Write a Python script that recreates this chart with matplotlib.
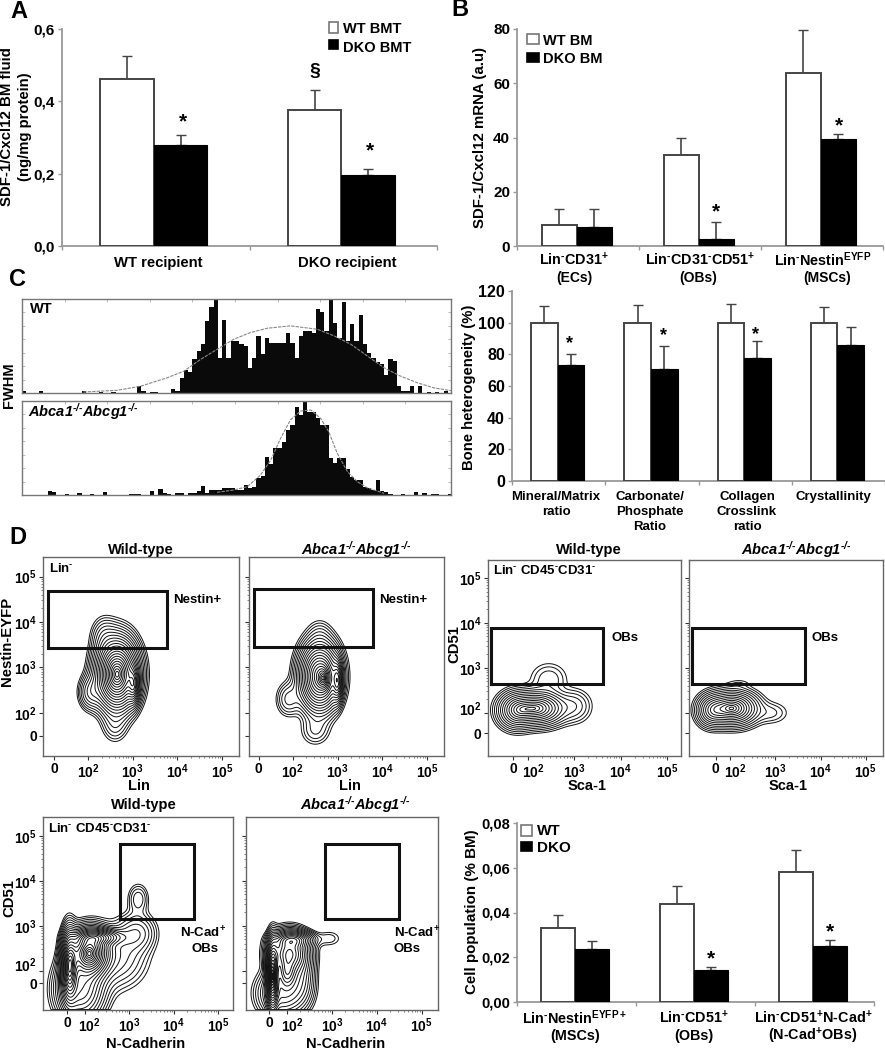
import numpy as np
import matplotlib
matplotlib.use('Agg')
import matplotlib.pyplot as plt
from matplotlib.transforms import ScaledTranslation

plt.rcParams['font.family'] = ['Liberation Sans', 'DejaVu Sans']
plt.rcParams['font.weight'] = 'bold'
plt.rcParams['mathtext.fontset'] = 'custom'
plt.rcParams['mathtext.rm'] = 'Liberation Sans:bold'
plt.rcParams['mathtext.bf'] = 'Liberation Sans:bold'
plt.rcParams['mathtext.it'] = 'Liberation Sans:italic:bold'
plt.rcParams['mathtext.bfit'] = 'Liberation Sans:italic:bold'

W, H = 885, 1050

# panel A
a_wt, a_wt_hi = [0.463, 0.377], [0.525, 0.43]
a_ko, a_ko_hi = [0.278, 0.197], [0.308, 0.213]
a_ticks = [0, 0.2, 0.4, 0.6]
a_ticklabels = ['0,0', '0,2', '0,4', '0,6']

# panel B
b_wt, b_wt_hi = [7.8, 33.7, 63.8], [13.5, 40, 79.5]
b_ko, b_ko_hi = [7.0, 2.5, 39.3], [13.5, 8.8, 41.3]
b_ticks = [0, 20, 40, 60, 80]

# panel C, bars
c_wt, c_wt_hi = [100, 100, 100, 100], [110.5, 111, 111.5, 110]
c_ko, c_ko_hi = [73.5, 71, 77.5, 86], [80.5, 85.5, 88.5, 97.5]
c_ticks = [0, 20, 40, 60, 80, 100, 120]

# panel C, histograms (one value per bin)
hist_wt = [6, 0, 0, 0, 5, 0, 0, 0, 0, 0,
           0, 0, 0, 0, 5, 0, 0, 0, 4, 0,
           0, 4, 0, 0, 0, 0, 0, 20, 5, 0,
           3, 3, 0, 0, 0, 13, 5, 45, 68, 62,
           100, 125, 145, 215, 255, 280, 105, 217, 105, 155,
           155, 145, 140, 75, 105, 170, 115, 165, 148, 148,
           148, 148, 178, 148, 105, 170, 185, 185, 180, 250,
           240, 185, 280, 210, 165, 272, 155, 205, 155, 232,
           145, 120, 105, 92, 85, 55, 100, 95, 20, 5,
           5, 20, 0, 20, 0, 4, 0, 4, 0, 5, 0]
hist_ko = [0, 0, 0, 0, 0, 0, 12, 8, 0, 0,
           3, 0, 0, 7, 0, 0, 3, 0, 0, 8,
           0, 0, 0, 0, 0, 2, 2, 2, 0, 0,
           13, 0, 17, 5, 3, 0, 5, 5, 0, 6,
           6, 12, 26, 5, 15, 15, 14, 22, 22, 22,
           15, 15, 30, 20, 25, 50, 58, 115, 92, 140,
           140, 160, 195, 210, 265, 240, 282, 248, 248, 230,
           210, 210, 110, 95, 110, 110, 78, 55, 45, 45,
           25, 20, 15, 45, 12, 8, 3, 0, 0, 2,
           0, 0, 10, 0, 5, 0, 2, 2, 0, 0, 2]
curve_wt_x = [14.4, 22.3, 27.8, 34, 38, 41.9, 45.8, 49.7, 53.6, 57.6, 63, 69.3, 73.3, 77.2, 81.1, 85, 88.9, 92.9, 96.8, 100.7]
curve_wt_y = [3, 8, 20, 45, 65, 100, 130, 160, 180, 193, 200, 190, 170, 145, 110, 75, 50, 30, 15, 7]
curve_ko_x = [45.8, 49.7, 52.9, 56, 58.4, 60.7, 63, 65.4, 67.8, 70.1, 72, 74, 76.4, 78.7, 81, 85]
curve_ko_y = [8, 15, 25, 60, 105, 170, 225, 252, 255, 230, 190, 125, 70, 40, 22, 5]

# panel D, bars
d_wt, d_wt_hi = [0.033, 0.044, 0.058], [0.039, 0.052, 0.068]
d_ko, d_ko_hi = [0.0235, 0.0142, 0.025], [0.0272, 0.0155, 0.0275]
d_ticks = [0, 0.02, 0.04, 0.06, 0.08]
d_ticklabels = ['0,00', '0,02', '0,04', '0,06', '0,08']

# flow plots: density peaks as (x, y, sigma x, sigma y, weight), axes in decades
peaks_lin_wt = [(2.65, 2.85, .25, .42, 1), (3.02, 2.62, .07, .22, .35), (2.35, 3.7, .17, .25, .05),
                (2.05, 2.45, .15, .22, .1), (2.6, 1.7, .17, .22, .04)]
peaks_lin_ko = [(2.6, 2.8, .24, .4, 1), (3.0, 2.7, .06, .24, .45), (2.7, 2.75, .08, .15, .3),
                (2.6, 3.75, .16, .2, .025), (1.9, 2.3, .16, .22, .08), (2.5, 1.6, .2, .2, .05)]
peaks_sca_wt = [(2.2, 2.1, .3, .19, 1), (1.75, 2.05, .2, .2, .6), (3.0, 2.15, .2, .2, .1),
                (2.45, 2.75, .22, .2, .07)]
peaks_sca_ko = [(2.05, 2.1, .28, .19, 1), (1.6, 2.05, .17, .18, .45), (2.9, 2.0, .22, .14, .05),
                (2.2, 2.65, .15, .06, .02)]
peaks_cad_wt = [(2.1, 2.4, .24, .28, 1), (1.65, 2.1, .1, .42, .8), (2.3, 2.75, .3, .1, .4),
                (1.9, 1.6, .3, .4, .35), (3.17, 2.85, .25, .25, .1), (3.2, 3.6, .14, .2, .06),
                (2.7, 2.3, .4, .4, .1)]
peaks_cad_ko = [(1.68, 1.9, .07, .4, 1), (2.05, 2.4, .24, .25, .7), (2.0, 1.95, .12, .2, .4),
                (2.15, 2.7, .24, .1, .35), (2.95, 2.72, .18, .12, .03), (1.9, 1.5, .3, .3, .25),
                (2.3, 1.9, .18, .35, .15)]

gate_lin_wt = (1.105, 3.77, 3.43, 4.68)
gate_lin_ko = (1.13, 3.79, 3.45, 4.73)
gate_sca_wt = (1.2, 3.62, 2.64, 3.89)
gate_sca_ko = (1.16, 3.66, 2.64, 3.89)
gate_cad_wt = (2.79, 4.45, 3.16, 4.82)
gate_cad_ko = (2.84, 4.49, 3.16, 4.82)

fig = plt.figure(figsize=(W / 100, H / 100), dpi=100, facecolor='white')


def add_box(l, t, r, b):
    return fig.add_axes([l / W, 1 - b / H, (r - l) / W, (b - t) / H])


def bars(rect, ymax, ticks, labels, wt, wt_hi, ko, ko_hi, bw=0.285, tsize=11):
    ax = add_box(*rect)
    x = np.arange(len(wt)) + 0.49
    ax.bar(x - bw / 2, wt, bw, color='white', edgecolor='#444444', linewidth=1.4, zorder=3)
    ax.bar(x + bw / 2, ko, bw, color='black', edgecolor='black', linewidth=0.8, zorder=3)
    wt_err = np.array(wt_hi) - np.array(wt)
    ko_err = np.array(ko_hi) - np.array(ko)
    zeros = np.zeros(len(wt))
    ax.errorbar(x - bw / 2, wt, yerr=[zeros, wt_err], fmt='none', ecolor='#444444', elinewidth=1.2, capsize=3.5, zorder=2)
    ax.errorbar(x + bw / 2, ko, yerr=[zeros, ko_err], fmt='none', ecolor='#444444', elinewidth=1.2, capsize=3.5, zorder=2)
    ax.set_xlim(0, len(wt))
    ax.set_ylim(0, ymax)
    ax.set_xticks(np.arange(len(wt) + 1))
    ax.set_xticklabels([])
    ax.set_yticks(ticks)
    ax.set_yticklabels(labels, fontsize=tsize, fontweight='bold')
    ax.tick_params(axis='both', color='#999999', length=3, width=1, pad=2)
    for s in ['top', 'right']:
        ax.spines[s].set_visible(False)
    for s in ['left', 'bottom']:
        ax.spines[s].set_color('#999999')
        ax.spines[s].set_linewidth(1.3)
    ax.patch.set_alpha(0)
    return ax


bars((62, 29, 437, 246), 0.6, a_ticks, a_ticklabels, a_wt, a_wt_hi, a_ko, a_ko_hi)
bars((517, 29, 883, 246), 80, b_ticks, b_ticks, b_wt, b_wt_hi, b_ko, b_ko_hi)
bars((512, 291, 885, 481), 120, c_ticks, c_ticks, c_wt, c_wt_hi, c_ko, c_ko_hi, tsize=11.5)
bars((517, 823, 874, 1002), 0.08, d_ticks, d_ticklabels, d_wt, d_wt_hi, d_ko, d_ko_hi, tsize=10.5)


def histogram(rect, vals, cx, cy, ymax):
    ax = add_box(*rect)
    ax.bar(np.arange(len(vals)), vals, 1.0, align='edge', color='#0a0a0a', linewidth=0, zorder=2)
    ax.plot(cx, cy, color='#888888', lw=0.8, ls=(0, (3, 1)), zorder=3)
    ax.set_xlim(0, 100.7)
    ax.set_ylim(0, ymax)
    ax.set_xticks(np.arange(10, 100, 10))
    ax.set_yticks(np.linspace(0, ymax, 8)[1:-1])
    ax.set_xticklabels([])
    ax.set_yticklabels([])
    ax.tick_params(axis='both', direction='in', top=True, right=True, bottom=False, left=True,
                   color='#bbbbbb', length=2, width=0.7)
    for s in ax.spines.values():
        s.set_color('#777777')
        s.set_linewidth(1.0)


histogram((22, 299, 451, 393), hist_wt, curve_wt_x, curve_wt_y, 280)
histogram((22, 401, 451, 495), hist_ko, curve_ko_x, curve_ko_y, 282)

log_minor = [n + np.log10(k) for n in range(2, 5) for k in range(2, 10)]
dec_labels = ['0', r'$\mathbf{10^{2}}$', r'$\mathbf{10^{3}}$', r'$\mathbf{10^{4}}$', r'$\mathbf{10^{5}}$']


def flow(rect, xlim, ylim, peaks, gate, zero_x, zero_y, ylab=True, n=22, xshift=0, yshift=0):
    ax = add_box(*rect)
    xs = np.linspace(xlim[0], xlim[1], 400)
    ys = np.linspace(ylim[0], ylim[1], 400)
    X, Y = np.meshgrid(xs, ys)
    Z = np.zeros_like(X)
    for px, py, sx, sy, w in peaks:
        Z += w * np.exp(-0.5 * ((X - px) / sx) ** 2 - 0.5 * ((Y - py) / sy) ** 2)
    Z[0, :] = 0
    # levels picked so the lines of a round peak come out evenly spaced
    levels = Z.max() * np.exp(-0.5 * np.linspace(2.9, 0.15, n) ** 2)
    ax.contour(X, Y, Z, levels=levels, colors='#111111', linewidths=0.7)
    x0, x1, y0, y1 = gate
    ax.plot([x0, x1, x1, x0, x0], [y0, y0, y1, y1, y0], color='#111111', lw=2.2, solid_joinstyle='miter')
    ax.set_xlim(*xlim)
    ax.set_ylim(*ylim)
    ax.set_xticks([zero_x, 2, 3, 4, 5])
    ax.set_xticklabels(dec_labels, fontsize=10, fontweight='bold')
    ax.set_xticks(log_minor, minor=True)
    ax.set_yticks([zero_y, 2, 3, 4, 5])
    if ylab:
        ax.set_yticklabels(dec_labels, fontsize=10, fontweight='bold')
    else:
        ax.set_yticklabels([])
    ax.set_yticks(log_minor, minor=True)
    ax.tick_params(axis='both', which='major', length=3, width=0.8, color='#333333', pad=1.5)
    ax.tick_params(axis='both', which='minor', length=1.5, width=0.5, color='#555555')
    for s in ax.spines.values():
        s.set_color('#666666')
        s.set_linewidth(1.0)
    if xshift:
        lab = ax.get_xticklabels()[1]
        lab.set_transform(lab.get_transform() + ScaledTranslation(xshift / 100, 0, fig.dpi_scale_trans))
    if yshift and ylab:
        lab = ax.get_yticklabels()[1]
        lab.set_transform(lab.get_transform() + ScaledTranslation(0, yshift / 100, fig.dpi_scale_trans))


flow((43, 557, 239, 756), (0.99, 5.38), (1.05, 5.43), peaks_lin_wt, gate_lin_wt, 1.24, 1.5)
flow((249, 557, 444, 756), (1.02, 5.38), (1.05, 5.43), peaks_lin_ko, gate_lin_ko, 1.24, 1.5, ylab=False)
flow((488, 560, 681, 756), (1.14, 5.3), (1.04, 5.4), peaks_sca_wt, gate_sca_wt, 1.68, 1.55, n=15, xshift=5, yshift=5)
flow((689, 560, 883, 756), (1.09, 5.38), (1.04, 5.4), peaks_sca_ko, gate_sca_ko, 1.68, 1.55, ylab=False, n=15, xshift=5)
flow((43, 817, 233, 1010), (1.06, 5.33), (1.13, 5.42), peaks_cad_wt, gate_cad_wt, 1.6, 1.72, xshift=5, yshift=7)
flow((246, 817, 438, 1010), (1.09, 5.36), (1.13, 5.42), peaks_cad_ko, gate_cad_ko, 1.6, 1.72, ylab=False, xshift=5)

# all the loose labels, placed in image pixels
ov = fig.add_axes([0, 0, 1, 1], zorder=10)
ov.set_xlim(0, W)
ov.set_ylim(H, 0)
ov.axis('off')


def T(x, y, s, size=10.7, ha='center', rot=0):
    ov.text(x, y, s, fontsize=size, ha=ha, va='center', rotation=rot, fontweight='bold')


def key(x0, x1, y0, y1, fill):
    ov.fill([x0, x1, x1, x0], [y0, y0, y1, y1], facecolor=fill, edgecolor='#777777' if fill == 'white' else 'black', lw=1.2)


for s, x, y in [('A', 19, 11), ('B', 460, 10), ('C', 18, 280), ('D', 18, 537)]:
    T(x, y, s, size=17)

# A
T(7, 127, 'SDF-1/Cxcl12 BM fluid', rot=90, size=10.8)
T(25, 127, '(ng/mg protein)', rot=90)
T(158, 263, 'WT recipient')
T(347, 263, 'DKO recipient')
key(329, 338, 22, 33, 'white')
key(329, 338, 40, 49, 'black')
T(343, 29, 'WT BMT', ha='left', size=10.5)
T(343, 48, 'DKO BMT', ha='left', size=10.5)
T(183, 122, '*', size=15)
T(370, 151, '*', size=15)
T(315, 71, '§', size=14)

# B
T(480, 137, 'SDF-1/Cxcl12 mRNA (a.u)', rot=90, size=10.8)
key(527, 539, 34, 44, 'white')
key(527, 539, 53, 62, 'black')
T(543, 41, 'WT BM', ha='left', size=10.5)
T(543, 59, 'DKO BM', ha='left', size=10.5)
T(574, 260, r'$\mathbf{Lin^{‐}CD31^{+}}$', size=10.4)
T(574, 278, '(ECs)', size=10)
T(700, 260, r'$\mathbf{Lin^{‐}CD31^{‐}CD51^{+}}$', size=10.4)
T(698, 278, '(OBs)', size=10)
T(823, 260, r'$\mathbf{Lin^{‐}Nestin^{EYFP}}$', size=10.4)
T(827, 278, '(MSCs)', size=10)
T(716, 212, '*', size=15)
T(839, 126, '*', size=15)

# C
T(9, 385, 'FWHM', rot=90, size=10.5)
T(30, 309, 'WT', ha='left', size=10.5)
T(28, 412, r'$\mathbfit{Abca1^{‐/‐}Abcg1^{‐/‐}}$', ha='left', size=10.5)
T(469, 387, 'Bone heterogeneity (%)', rot=90)
for x, y, s in [(556, 497, 'Mineral/Matrix'), (556, 512, 'ratio'), (650, 497, 'Carbonate/'), (650, 512, 'Phosphate'),
                (650, 527, 'Ratio'), (747, 497, 'Collagen'), (747, 512, 'Crosslink'), (747, 527, 'ratio'),
                (833, 497, 'Crystallinity')]:
    T(x, y, s, size=9.5)
T(569, 344, '*', size=13)
T(663, 336, '*', size=13)
T(756, 335, '*', size=13)

# D, flow titles and gates
T(7, 641, 'Nestin-EYFP', rot=90)
T(454, 644, 'CD51', rot=90)
T(9, 898, 'CD51', rot=90)
abca = r'$\mathbfit{Abca1^{‐/‐}Abcg1^{‐/‐}}$'
for x, y, s in [(141, 550, 'Wild-type'), (356, 550, abca), (589, 550, 'Wild-type'), (796, 550, abca),
                (144, 805, 'Wild-type'), (355, 805, abca)]:
    T(x, y, s, size=10.5)
T(49, 568, r'$\mathbf{Lin^{‐}}$', ha='left', size=9.5)
T(173, 600, 'Nestin+', ha='left', size=9.5)
T(379, 600, 'Nestin+', ha='left', size=9.5)
T(139, 786, 'Lin', size=10.5)
T(350, 786, 'Lin', size=10.5)
T(493, 571, r'$\mathbf{Lin^{‐}\ CD45^{‐}CD31^{‐}}$', ha='left', size=9.5)
T(611, 638, 'OBs', ha='left', size=9.5)
T(812, 638, 'OBs', ha='left', size=9.5)
T(587, 786, 'Sca-1', size=10.5)
T(788, 786, 'Sca-1', size=10.5)
T(48, 828, r'$\mathbf{Lin^{‐}\ CD45^{‐}CD31^{‐}}$', ha='left', size=9.5)
T(203, 933, r'$\mathbf{N‐Cad^{+}}$', size=9.5)
T(205, 949, 'OBs', size=9.5)
T(394, 933, r'$\mathbf{N‐Cad^{+}}$', ha='left', size=9.5)
T(394, 949, 'OBs', ha='left', size=9.5)
T(146, 1044, 'N-Cadherin', size=10.5)
T(346, 1044, 'N-Cadherin', size=10.5)

# D, bars
T(472, 912, 'Cell population (% BM)', rot=90, size=10.9)
key(521, 532, 825, 836, 'white')
key(521, 532, 842, 851, 'black')
T(537, 831, 'WT', ha='left', size=11)
T(537, 848, 'DKO', ha='left', size=11)
T(575, 1018, r'$\mathbf{Lin^{‐}Nestin^{EYFP+}}$', size=10.4)
T(575, 1036, '(MSCs)', size=10.4)
T(694, 1018, r'$\mathbf{Lin^{‐}CD51^{+}}$', size=10.4)
T(694, 1036, '(OBs)', size=10.4)
T(813, 1018, r'$\mathbf{Lin^{‐}CD51^{+}N‐Cad^{+}}$', size=10.4)
T(813, 1036, r'$\mathbf{(N‐Cad^{+}OBs)}$', size=10.4)
T(711, 959, '*', size=15)
T(830, 932, '*', size=15)

fig.savefig('out.png', dpi=100)
